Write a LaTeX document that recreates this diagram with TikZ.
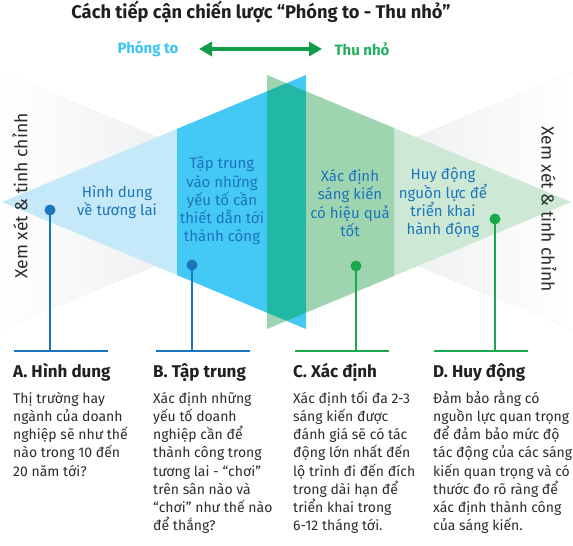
\documentclass[tikz,border=0pt]{standalone}
\usepackage{fontspec}
\setmainfont{Fira Sans}
\usetikzlibrary{arrows.meta}
\definecolor{ttl}{HTML}{231F20}
\definecolor{bodyc}{HTML}{2B2B2B}
\definecolor{lblue}{HTML}{C6E9F9}
\definecolor{mblue}{HTML}{44C8F5}
\definecolor{teal}{HTML}{22B8A6}
\definecolor{mgreen}{HTML}{9ED5B0}
\definecolor{lgreen}{HTML}{CDE9D6}
\definecolor{dblue}{HTML}{1B75BB}
\definecolor{dgreen}{HTML}{1AA84C}
\definecolor{arrg}{HTML}{109D48}
\definecolor{skyt}{HTML}{3CC4F2}
\definecolor{grntxt}{HTML}{22B060}
\definecolor{grayf}{HTML}{E1E3E5}
\tikzset{
  tri/.style={font=\fontsize{15}{18.3}\selectfont, text=dblue, align=center, inner sep=0pt},
  head/.style={font=\fontsize{17}{20}\selectfont\bfseries, text=ttl, anchor=base west, inner sep=0pt},
  bodytxt/.style={font=\fontsize{14}{18.2}\selectfont, text=bodyc, anchor=north west, align=left, inner sep=0pt},
  dotb/.style={circle, fill=dblue, inner sep=0pt, minimum size=11pt},
  dotg/.style={circle, fill=dgreen, inner sep=0pt, minimum size=11pt},
  lineb/.style={draw=dblue, line width=2.6pt},
  lineg/.style={draw=dgreen, line width=2.6pt},
  side/.style={font=\fontsize{17.5}{20}\selectfont, text=bodyc, inner sep=0pt}
}
\begin{document}
\begin{tikzpicture}[x=1pt,y=-1pt]
\useasboundingbox (0,0) rectangle (573,546);
% gray bow-tie
\shade[left color=white, right color=grayf] (0,72) -- (312,201) -- (0,330) -- cycle;
\shade[left color=grayf, right color=white] (573,72) -- (261,201) -- (573,330) -- cycle;
\draw[gray!35, line width=0.4pt, dotted] (0,72) -- (160,138);
\draw[gray!35, line width=0.4pt, dotted] (0,330) -- (160,264);
\draw[gray!35, line width=0.4pt, dotted] (573,72) -- (413,138);
\draw[gray!35, line width=0.4pt, dotted] (573,330) -- (413,264);
% blue triangle
\fill[lblue] (2,202) -- (177,128.9) -- (177,275.1) -- cycle;
\fill[mblue] (177,128.9) -- (267,91.3) -- (267,312.7) -- (177,275.1) -- cycle;
\fill[mblue] (267,91.3) -- (306,75) -- (306,329) -- (267,312.7) -- cycle;
% green triangle
\fill[lgreen] (571,202) -- (394,128) -- (394,276) -- cycle;
\fill[mgreen] (394,128) -- (306,91.3) -- (306,312.7) -- (394,276) -- cycle;
\fill[mgreen] (306,91.3) -- (267,75) -- (267,329) -- (306,312.7) -- cycle;
% overlap
\fill[teal] (267,91.3) -- (286.5,83.2) -- (306,91.3) -- (306,312.7) -- (286.5,320.8) -- (267,312.7) -- cycle;
% title
\node[font=\fontsize{18.3}{22}\selectfont\bfseries, text=ttl, inner sep=0pt] (title) at (261,12) {Cách tiếp cận chiến lược “Phóng to - Thu nhỏ”};
\node[font=\fontsize{15}{18}\selectfont\bfseries, text=skyt, inner sep=0pt] (pt) at (148,49) {Phóng to};
\node[font=\fontsize{15}{18}\selectfont\bfseries, text=grntxt, inner sep=0pt] (tn) at (362,49) {Thu nhỏ};
\coordinate (arrL) at (199,49);
\coordinate (arrR) at (322,49);
\draw[arrg, line width=3.5pt, {Triangle[length=13pt,width=14pt]}-{Triangle[length=13pt,width=14pt]}] (arrL) -- (arrR);
% side texts
\node[side, rotate=90] (sl) at (20,196) {Xem xét \& tinh chỉnh};
\node[side, rotate=-90] (sr) at (549,209) {Xem xét \& tinh chỉnh};
% triangle texts
\node[tri] (tA) at (117,202) {Hình dung\\về tương lai};
\node[tri] (tB) at (222,201) {Tập trung\\vào những\\yếu tố cần\\thiết dẫn tới\\thành công};
\node[tri] (tC) at (350,203) {Xác định\\sáng kiến\\có hiệu quả\\tốt};
\node[tri] (tD) at (443,203) {Huy động\\nguồn lực để\\triển khai\\hành động};
% dots and leader lines
\node[dotb] (dA) at (50,210) {};
\node[dotb] (dB) at (192,265) {};
\node[dotg] (dC) at (356,266) {};
\node[dotg] (dD) at (495,219) {};
\coordinate (bA) at (50,351);
\coordinate (bB) at (192,351);
\coordinate (bC) at (356,351);
\coordinate (bD) at (495,351);
\coordinate (bAl) at (14,351); \coordinate (bAr) at (108,351);
\coordinate (bBl) at (156,351); \coordinate (bBr) at (250,351);
\coordinate (bCl) at (295,351); \coordinate (bCr) at (389,351);
\coordinate (bDl) at (434,351); \coordinate (bDr) at (528,351);
\draw[lineb] (dA.center) -- (bA);
\draw[lineb] (dB.center) -- (bB);
\draw[lineg] (dC.center) -- (bC);
\draw[lineg] (dD.center) -- (bD);
\draw[lineb] (bAl) -- (bAr);
\draw[lineb] (bBl) -- (bBr);
\draw[lineg] (bCl) -- (bCr);
\draw[lineg] (bDl) -- (bDr);
% headings
\node[head] (hA) at (13,377) {A. Hình dung};
\node[head] (hB) at (153,377) {B. Tập trung};
\node[head] (hC) at (293,377) {C. Xác định};
\node[head] (hD) at (433,377) {D. Huy động};
% bodies
\node[bodytxt] (xA) at (13,390.3) {\strut Thị trường hay\\ngành của doanh\\nghiệp sẽ như thế\\nào trong 10 đến\\20 năm tới?};
\node[bodytxt] (xB) at (153,390.3) {\strut Xác định những\\yếu tố doanh\\nghiệp cần để\\thành công trong\\tương lai - “chơi”\\trên sân nào và\\“chơi” như thế nào\\để thắng?};
\node[bodytxt] (xC) at (293,390.3) {\strut Xác định tối đa 2-3\\sáng kiến được\\đánh giá sẽ có tác\\động lớn nhất đến\\lộ trình đi đến đích\\trong dài hạn để\\triển khai trong\\6-12 tháng tới.};
\node[bodytxt] (xD) at (433,390.3) {\strut Đảm bảo rằng có\\nguồn lực quan trọng\\để đảm bảo mức độ\\tác động của các sáng\\kiến quan trọng và có\\thước đo rõ ràng để\\xác định thành công\\của sáng kiến.};
\end{tikzpicture}
\end{document}
